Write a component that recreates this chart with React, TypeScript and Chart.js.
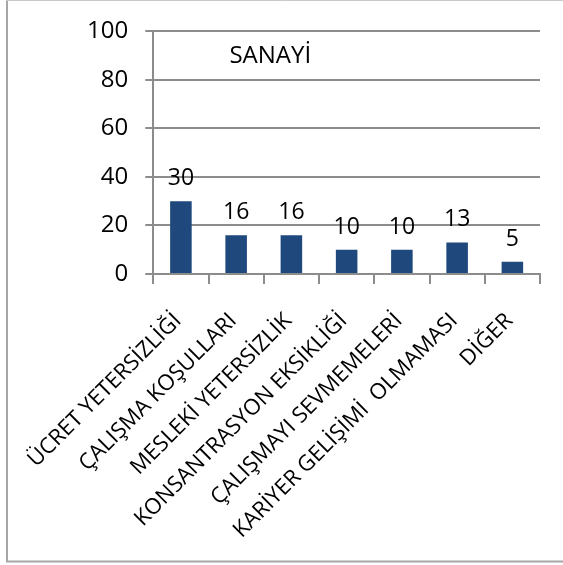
import React, { useEffect, useRef } from "react";
import { Chart, registerables } from "chart.js";

Chart.register(...registerables);

const categories: string[] = [
  "ÜCRET YETERSİZLİĞİ",
  "ÇALIŞMA KOŞULLARI",
  "MESLEKİ YETERSİZLİK",
  "KONSANTRASYON EKSİKLİĞİ",
  "ÇALIŞMAYI SEVMEMELERİ",
  "KARİYER GELİŞİMİ  OLMAMASI",
  "DİĞER",
];
const values: number[] = [30, 16, 16, 10, 10, 13, 5];
const yTicks: number[] = [0, 20, 40, 60, 80, 100];
const chartTitle = "SANAYİ";

const FONT = "'Open Sans', 'DejaVu Sans', sans-serif";
const GRID = "#8c8c8c";
const BAR = "#1F497D";

// Frame lines around the picture (left, top and bottom edges)
const framePlugin = {
  id: "frame",
  beforeDraw(chart: any) {
    const ctx = chart.ctx;
    ctx.save();
    ctx.fillStyle = "#ffffff";
    ctx.fillRect(0, 0, chart.width, chart.height);
    ctx.strokeStyle = "#a6a6a6";
    ctx.lineWidth = 2;
    ctx.beginPath();
    ctx.moveTo(7, 0);
    ctx.lineTo(7, 562);
    ctx.moveTo(6, 561.5);
    ctx.lineTo(chart.width, 561.5);
    ctx.stroke();
    ctx.strokeStyle = "#c8c8c8";
    ctx.lineWidth = 1;
    ctx.beginPath();
    ctx.moveTo(6, 0.5);
    ctx.lineTo(chart.width, 0.5);
    ctx.stroke();
    ctx.restore();
  },
};

// Title inside the plot and value labels above each bar
const labelsPlugin = {
  id: "barLabels",
  afterDatasetsDraw(chart: any) {
    const ctx = chart.ctx;
    const area = chart.chartArea;
    ctx.save();
    ctx.fillStyle = "#000000";
    ctx.textAlign = "center";
    ctx.textBaseline = "middle";
    ctx.font = `24px ${FONT}`;
    ctx.fillText(chartTitle, area.left + 117, area.top + 25);

    ctx.font = `23px ${FONT}`;
    ctx.textBaseline = "alphabetic";
    const meta = chart.getDatasetMeta(0);
    meta.data.forEach((bar: any, i: number) => {
      ctx.fillText(String(values[i]), bar.x, bar.y - 16);
    });
    ctx.restore();
  },
};

export default function App() {
  const canvasRef = useRef<HTMLCanvasElement | null>(null);

  useEffect(() => {
    if (!canvasRef.current) return;
    const chart = new Chart(canvasRef.current, {
      type: "bar",
      data: {
        labels: categories,
        datasets: [
          {
            data: values,
            backgroundColor: BAR,
            borderWidth: 0,
            barPercentage: 0.39,
            categoryPercentage: 1,
          },
        ],
      },
      options: {
        animation: false,
        responsive: false,
        devicePixelRatio: 1,
        layout: { padding: { left: 0, top: 27.5, right: 23, bottom: 0 } },
        plugins: {
          legend: { display: false },
          tooltip: { enabled: false },
          title: { display: false },
        },
        scales: {
          x: {
            offset: true,
            grid: {
              offset: true,
              drawOnChartArea: false,
              drawTicks: true,
              tickLength: 10,
              color: GRID,
              lineWidth: 2,
            },
            border: { color: GRID, width: 2 },
            ticks: {
              color: "#000000",
              font: { family: FONT, size: 22 },
              minRotation: 45,
              maxRotation: 45,
              autoSkip: false,
              padding: 24,
              labelOffset: -3,
            },
            afterFit(scale: any) {
              scale.height = 565 - 274;
            },
          },
          y: {
            min: 0,
            max: 100,
            afterBuildTicks(scale: any) {
              scale.ticks = yTicks.map((v) => ({ value: v }));
            },
            grid: {
              color: GRID,
              lineWidth: 2,
              tickLength: 8,
            },
            border: { color: GRID, width: 2 },
            ticks: {
              color: "#000000",
              font: { family: FONT, size: 24 },
              padding: 17,
            },
            afterFit(scale: any) {
              scale.width = 152;
            },
          },
        },
      },
      plugins: [framePlugin, labelsPlugin],
    });
    return () => chart.destroy();
  }, []);

  return (
    <div style={{ position: "absolute", left: 0, top: 0, width: 563, height: 565, background: "#fff" }}>
      <canvas ref={canvasRef} width={563} height={565} style={{ display: "block" }} />
    </div>
  );
}
